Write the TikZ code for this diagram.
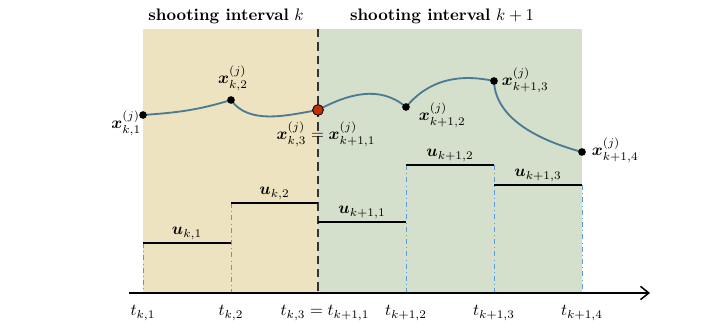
\documentclass[tikz,border=0pt]{standalone}
\usepackage{amsmath,bm}
\usetikzlibrary{arrows.meta}
\definecolor{yel}{HTML}{EEE3C0}
\definecolor{grn}{HTML}{D5E0CC}
\definecolor{curvec}{HTML}{4A7B93}
\definecolor{dotred}{HTML}{C0300A}
\definecolor{dashblue}{HTML}{5A9BD5}
\tikzset{
  pt/.style={circle,fill=black,inner sep=0pt,minimum size=4.6pt},
  redpt/.style={circle,fill=dotred,draw=black,line width=0.5pt,inner sep=0pt,minimum size=6.5pt},
  ctrl/.style={line width=0.9pt,black},
  vdash/.style={dashblue,dash dot,line width=0.5pt},
  traj/.style={curvec,line width=1.1pt},
  lbl/.style={inner sep=1.5pt}
}
\begin{document}
\begin{tikzpicture}[x=0.6pt,y=0.6pt]
\useasboundingbox (0,0) rectangle (708,325);
% regions
\fill[yel] (143,32) rectangle (318,296);
\fill[grn] (318,32) rectangle (582,296);
% titles
\node[lbl] (t1) at (226,309) {\textbf{shooting interval} $k$};
\node[lbl] (t2) at (442,309) {\textbf{shooting interval} $k+1$};
% time coordinates on axis
\coordinate (a1) at (143,32);
\coordinate (a2) at (231,32);
\coordinate (a3) at (318,32);
\coordinate (a4) at (406,32);
\coordinate (a5) at (494,32);
\coordinate (a6) at (582,32);
\coordinate (top3) at (318,296);
% control levels
\coordinate (u1a) at (143,82);  \coordinate (u1b) at (231,82);
\coordinate (u2a) at (231,122); \coordinate (u2b) at (318,122);
\coordinate (u3a) at (318,103); \coordinate (u3b) at (406,103);
\coordinate (u4a) at (406,160); \coordinate (u4b) at (494,160);
\coordinate (u5a) at (494,140); \coordinate (u5b) at (582,140);
% dash-dot verticals
\draw[vdash] (u1a) -- (a1);
\draw[vdash] (u2a) -- (a2);
\draw[vdash] (u4a) -- (a4);
\draw[vdash] (u4b) -- (a5);
\draw[vdash] (u5b) -- (a6);
% interval boundary
\draw[black!80,line width=0.9pt,dash pattern=on 5pt off 3pt] (top3) -- (a3);
% control steps
\draw[ctrl] (u1a) -- (u1b) node[midway,above,lbl] (lu1) {$\bm{u}_{k,1}$};
\draw[ctrl] (u2a) -- (u2b) node[midway,above,lbl] (lu2) {$\bm{u}_{k,2}$};
\draw[ctrl] (u3a) -- (u3b) node[midway,above,lbl] (lu3) {$\bm{u}_{k+1,1}$};
\draw[ctrl] (u4a) -- (u4b) node[midway,above,lbl] (lu4) {$\bm{u}_{k+1,2}$};
\draw[ctrl] (u5a) -- (u5b) node[midway,above,lbl] (lu5) {$\bm{u}_{k+1,3}$};
% axis
\coordinate (ax0) at (129,32);
\coordinate (ax1) at (650,32);
\draw[line width=0.9pt,-{Straight Barb[length=5pt,width=8pt]}] (ax0) -- (ax1);
% time labels
\node[lbl] (lt1) at (143,12) {$t_{k,1}$};
\node[lbl] (lt2) at (231,12) {$t_{k,2}$};
\node[lbl] (lt3) at (325,12) {$t_{k,3}=t_{k+1,1}$};
\node[lbl] (lt4) at (406,12) {$t_{k+1,2}$};
\node[lbl] (lt5) at (494,12) {$t_{k+1,3}$};
\node[lbl] (lt6) at (582,12) {$t_{k+1,4}$};
% trajectory points
\coordinate (x1) at (143,210);
\coordinate (x2) at (231,225);
\coordinate (x3) at (318,215);
\coordinate (x4) at (406,218);
\coordinate (x5) at (494,244);
\coordinate (x6) at (582,173);
\draw[traj] (x1) to[out=4,in=197] (x2);
\draw[traj] (x2) to[out=-55,in=190,looseness=0.9] (x3);
\draw[traj] (x3) to[out=28,in=140] (x4);
\draw[traj] (x4) to[out=50,in=168] (x5);
\draw[traj] (x5) to[out=-88,in=165,looseness=0.9] (x6);
\node[pt] (p1) at (x1) {};
\node[pt] (p2) at (x2) {};
\node[redpt] (p3) at (x3) {};
\node[pt] (p4) at (x4) {};
\node[pt] (p5) at (x5) {};
\node[pt] (p6) at (x6) {};
% point labels
\node[lbl,anchor=east] (lx1) at (144,202) {$\bm{x}_{k,1}^{(j)}$};
\node[lbl] (lx2) at (233,247) {$\bm{x}_{k,2}^{(j)}$};
\node[lbl] (lx3) at (326,191) {$\bm{x}_{k,3}^{(j)}=\bm{x}_{k+1,1}^{(j)}$};
\node[lbl,anchor=west] (lx4) at (416,210) {$\bm{x}_{k+1,2}^{(j)}$};
\node[lbl,anchor=west] (lx5) at (499,245) {$\bm{x}_{k+1,3}^{(j)}$};
\node[lbl,anchor=west] (lx6) at (589,175) {$\bm{x}_{k+1,4}^{(j)}$};
\end{tikzpicture}
\end{document}
